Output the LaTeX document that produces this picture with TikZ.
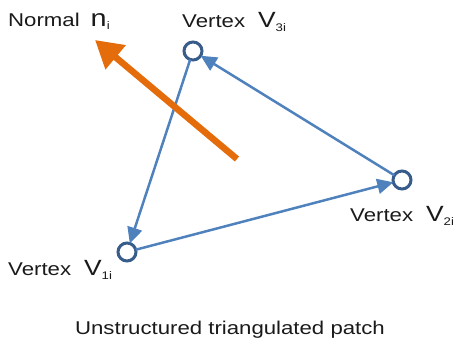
\documentclass[tikz,border=0pt]{standalone}
\usepackage{fontspec}
\setmainfont[FakeStretch=1.2]{Liberation Sans}
\usetikzlibrary{arrows.meta}
\definecolor{meshblue}{HTML}{4F81BD}
\definecolor{ringblue}{HTML}{385D8A}
\definecolor{normorange}{HTML}{E46C0A}
\definecolor{txt}{HTML}{1A1A1A}
\tikzset{
  vertex/.style={draw=ringblue,circle,line width=3pt,fill=white,minimum size=18pt,inner sep=0pt,outer sep=0pt},
  meshedge/.style={draw=meshblue,line width=2.5pt,-{Triangle[length=16pt,width=15pt]}},
  normalarrow/.style={draw=normorange,line width=6.5pt,-{Triangle[length=27pt,width=30pt]}},
  lbl/.style={anchor=base west,inner sep=0pt,text=txt,font=\fontsize{18.5}{20}\selectfont}
}
\newcommand{\bigsym}[2]{\hspace*{13pt}{\fontsize{22}{22}\selectfont #1}\raisebox{-4pt}{\fontsize{11}{11}\selectfont #2}}
\begin{document}
\begin{tikzpicture}[x=1pt,y=-1pt]
\useasboundingbox (0,0) rectangle (453,342);
\node[vertex] (v3) at (193,51) {};
\node[vertex] (v1) at (127,252) {};
\node[vertex] (v2) at (402,180) {};
\coordinate (ntail) at (237,159);
\coordinate (ntip) at (95,40);
\draw[meshedge] (v3) -- (v1);
\draw[meshedge] (v1) -- (v2);
\draw[meshedge] (v2) -- (v3);
\draw[normalarrow] (ntail) -- (ntip);
\node[lbl] (lnorm) at (8,27) {Normal\hspace*{11pt}{\fontsize{24}{24}\selectfont n}\raisebox{-3pt}{\fontsize{11}{11}\selectfont i}};
\node[lbl] (lv3) at (182,28) {Vertex\bigsym{V}{3i}};
\node[lbl] (lv1) at (8,276) {Vertex\bigsym{V}{1i}};
\node[lbl] (lv2) at (350,222) {Vertex\bigsym{V}{2i}};
\node[lbl,anchor=base] (cap) at (230,334) {Unstructured triangulated patch};
\end{tikzpicture}
\end{document}
